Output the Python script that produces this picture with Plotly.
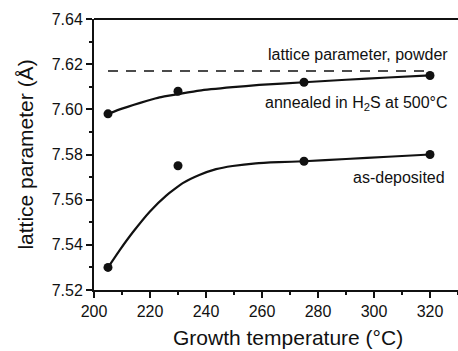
import plotly.graph_objects as go

# measured data
temps = [205, 230, 275, 320]
annealed = [7.598, 7.608, 7.612, 7.615]
as_deposited = [7.530, 7.575, 7.577, 7.580]

# fitted guide curves
fit_x_annealed = [205, 210, 214, 219, 223.4, 230, 237.6, 249.5, 259, 275, 290, 305, 320]
fit_annealed = [7.598, 7.6003, 7.6019, 7.6038, 7.6053, 7.6067, 7.6083, 7.6098, 7.6108, 7.6120,
                7.6131, 7.6141, 7.6150]
fit_x_as_dep = [205, 209.2, 214, 219.9, 225.8, 231.7, 237.6, 243.6, 249.5, 257.8, 266, 275, 290,
                305, 320]
fit_as_deposited = [7.530, 7.5377, 7.5458, 7.5547, 7.5618, 7.5673, 7.5709, 7.5735, 7.5749, 7.5761,
                    7.5766, 7.5770, 7.5780, 7.5790, 7.5800]

powder_x = [205, 318]
powder_value = [7.617, 7.617]

x_ticks = [200, 220, 240, 260, 280, 300, 320]
y_ticks = [7.52, 7.54, 7.56, 7.58, 7.60, 7.62, 7.64]

FONT = "Liberation Sans, Arial, sans-serif"
INK = "#111111"

fig = go.Figure()
fig.add_trace(go.Scatter(x=powder_x, y=powder_value, mode="lines",
                         line=dict(color=INK, width=1.6, dash="10px,8px"), showlegend=False))
fig.add_trace(go.Scatter(x=fit_x_annealed, y=fit_annealed, mode="lines", line_shape="spline",
                         line=dict(color=INK, width=2.2, smoothing=0.4), showlegend=False))
fig.add_trace(go.Scatter(x=fit_x_as_dep, y=fit_as_deposited, mode="lines", line_shape="spline",
                         line=dict(color=INK, width=2.2, smoothing=0.4), showlegend=False))
fig.add_trace(go.Scatter(x=temps, y=annealed, mode="markers",
                         marker=dict(color=INK, size=9), showlegend=False))
fig.add_trace(go.Scatter(x=temps, y=as_deposited, mode="markers",
                         marker=dict(color=INK, size=9), showlegend=False))

fig.update_layout(
    width=458, height=351,
    margin=dict(l=94, r=0, t=19, b=61),
    paper_bgcolor="white", plot_bgcolor="white",
    font=dict(family=FONT, color=INK, size=16),
    xaxis=dict(range=[200, 330], tickvals=x_ticks, ticks="outside", ticklen=6, tickwidth=1.5,
               tickcolor=INK, showline=True, linecolor=INK, linewidth=2, showgrid=False,
               zeroline=False, tickfont=dict(size=16),
               minor=dict(dtick=10, tick0=200, ticks="outside", ticklen=3, tickwidth=1.5,
                          tickcolor=INK, showgrid=False)),
    yaxis=dict(range=[7.52, 7.64], tickvals=y_ticks, tickformat=".2f", ticks="outside",
               ticklen=6, tickwidth=1.5, tickcolor=INK, showline=True, linecolor=INK,
               linewidth=2, showgrid=False, zeroline=False, tickfont=dict(size=16),
               title=dict(text="lattice parameter (Å)", font=dict(size=21), standoff=12),
               minor=dict(dtick=0.01, tick0=7.52, ticks="outside", ticklen=3, tickwidth=1.5,
                          tickcolor=INK, showgrid=False)),
    shapes=[dict(type="line", xref="paper", yref="paper", x0=0, x1=1, y0=1, y1=1,
                 line=dict(color=INK, width=2))],
    annotations=[
        dict(text="Growth temperature (°C)", xref="paper", yref="paper", x=0.533, y=-0.175,
             xanchor="center", yanchor="middle", showarrow=False, font=dict(size=21)),
        dict(text="lattice parameter, powder", x=327.1, y=7.6241, xanchor="right",
             yanchor="middle", showarrow=False, font=dict(size=16)),
        dict(text="annealed in H<sub>2</sub>S at 500°C", x=327.1, y=7.6028, xanchor="right",
             yanchor="middle", showarrow=False, font=dict(size=16)),
        dict(text="as-deposited", x=326, y=7.5696, xanchor="right",
             yanchor="middle", showarrow=False, font=dict(size=16)),
    ],
)

fig.write_html("out.html", config={"displayModeBar": False},
               post_script="document.body.style.margin='0';document.body.style.overflow='hidden';")
